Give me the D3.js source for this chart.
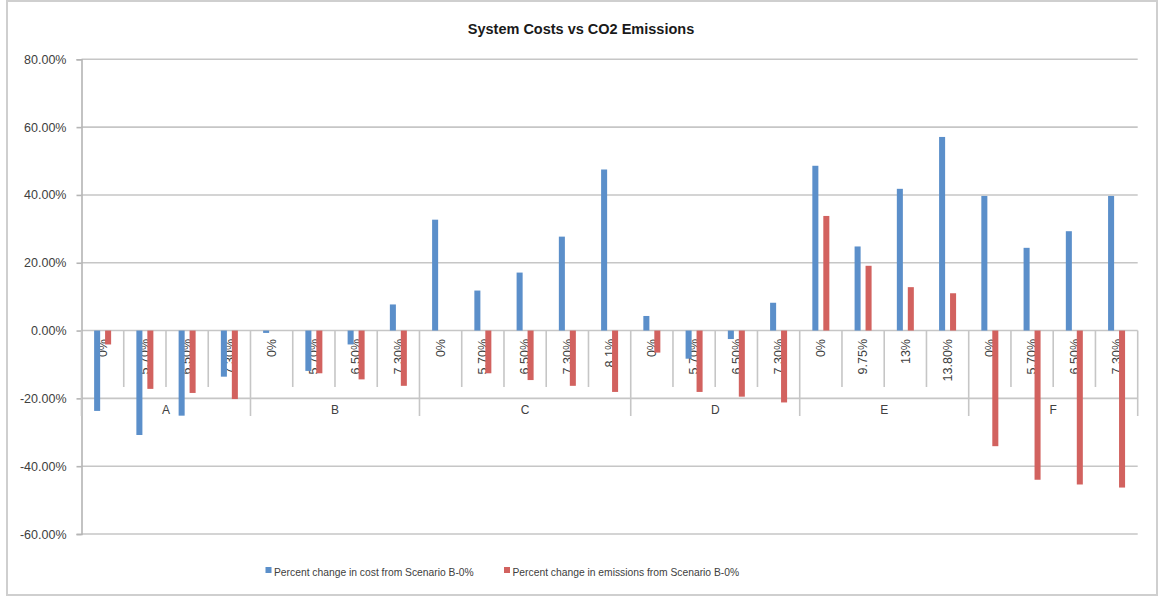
<!DOCTYPE html>
<html>
<head>
<meta charset="utf-8">
<script src="https://cdn.jsdelivr.net/npm/d3@7"></script>
<style>
  html, body { margin: 0; padding: 0; background: #fff; }
  svg { display: block; }
  text { font-family: "Liberation Sans", Arial, sans-serif; fill: #404040; }
</style>
</head>
<body>
<svg id="chart" width="1159" height="596"></svg>
<script>
// Scenario groups and the rate within each group (multi-level category axis)
const groupNames = ["A", "B", "C", "D", "E", "F"];
const categoryGroup = ["A","A","A","A","B","B","B","B","C","C","C","C","C","D","D","D","D","E","E","E","E","F","F","F","F"];
const categoryRate  = ["0%","5.70%","6.50%","7.30%","0%","5.70%","6.50%","7.30%","0%","5.70%","6.50%","7.30%","8.1%","0%","5.70%","6.50%","7.30%","0%","9.75%","13%","13.80%","0%","5.70%","6.50%","7.30%"];

// Percent change from Scenario B-0%
const costChange      = [-23.7, -30.8, -25.1, -13.6, -0.7, -11.9, -4.1, 7.7, 32.7, 11.8, 17.1, 27.7, 47.5, 4.3, -8.3, -2.5, 8.2, 48.6, 24.8, 41.8, 57.1, 39.7, 24.4, 29.3, 39.7];
const emissionsChange = [-4.1, -17.2, -18.4, -20.2, 0, -12.6, -14.4, -16.3, 0, -12.6, -14.6, -16.3, -18.1, -6.5, -18.1, -19.5, -21.2, 33.8, 19.1, 12.8, 11.0, -34.1, -44.0, -45.4, -46.3];

const yTicks = [-60, -40, -20, 0, 20, 40, 60, 80];
const seriesNames = ["Percent change in cost from Scenario B-0%", "Percent change in emissions from Scenario B-0%"];
const seriesColors = ["#5b8fca", "#d2625f"];

const svg = d3.select("#chart");
const plot = { left: 81.5, right: 1137.7, top: 59.3, bottom: 534 };

// outer frame
svg.append("rect")
  .attr("x", 7).attr("y", 1).attr("width", 1150).attr("height", 594)
  .attr("fill", "#fff").attr("stroke", "#cfcfcf").attr("stroke-width", 2);

// title
svg.append("text")
  .attr("x", 581).attr("y", 34)
  .attr("text-anchor", "middle")
  .style("font-weight", "bold").style("font-size", "14.5px").style("fill", "#1a1a1a")
  .text("System Costs vs CO2 Emissions");

const idx = d3.range(categoryRate.length);
const x = d3.scaleBand().domain(idx).range([plot.left, plot.right]).padding(0);
const bw = x.bandwidth();
const x1 = d3.scaleBand().domain([0, 1]).range([bw / 2 - 8.5, bw / 2 + 8.5]).paddingInner(0.45);
const y = d3.scaleLinear().domain([-60, 80]).range([plot.bottom, plot.top]);

// horizontal gridlines (including the zero line)
svg.append("g").selectAll("line").data(yTicks).join("line")
  .attr("x1", plot.left).attr("x2", plot.right)
  .attr("y1", d => y(d)).attr("y2", d => y(d))
  .attr("stroke", "#c6c6c6").attr("stroke-width", 1.6);

// value axis, plain hyphen for negatives
const yAxis = d3.axisLeft(y).tickValues(yTicks).tickSize(5).tickPadding(10)
  .tickFormat(d => d.toFixed(2) + "%");
const gy = svg.append("g").attr("transform", `translate(${plot.left},0)`).call(yAxis);
gy.select(".domain").attr("stroke", "#b5b5b5").attr("stroke-width", 1.6);
gy.selectAll(".tick line").attr("stroke", "#b5b5b5").attr("stroke-width", 1.6);
gy.selectAll(".tick text").style("font-size", "12.5px").style("fill", "#404040")
  .attr("font-family", null);

// category axis: tick marks between categories, longer dividers between groups
const y0 = y(0);
const boundaries = d3.range(categoryRate.length + 1);
const groupStart = new Set([0, categoryRate.length]);
categoryGroup.forEach((g, i) => { if (i > 0 && categoryGroup[i - 1] !== g) groupStart.add(i); });
const bx = i => plot.left + i * bw;
svg.append("g").selectAll("line").data(boundaries).join("line")
  .attr("x1", bx).attr("x2", bx)
  .attr("y1", y0).attr("y2", i => groupStart.has(i) ? 416 : 387)
  .attr("stroke", "#c6c6c6").attr("stroke-width", 1.6);

// rate labels, rotated
svg.append("g").selectAll("text").data(idx).join("text")
  .attr("transform", i => `translate(${x(i) + bw / 2},339) rotate(-90)`)
  .attr("text-anchor", "end").attr("dy", "0.35em")
  .style("font-size", "12.5px")
  .text(i => categoryRate[i]);

// group labels
const groupExtent = groupNames.map(g => {
  const members = idx.filter(i => categoryGroup[i] === g);
  return { name: g, cx: (x(members[0]) + x(members[members.length - 1]) + bw) / 2 };
});
svg.append("g").selectAll("text").data(groupExtent).join("text")
  .attr("x", d => d.cx).attr("y", 413.5)
  .attr("text-anchor", "middle").style("font-size", "12px")
  .text(d => d.name);

// bars
const series = [costChange, emissionsChange];
series.forEach((vals, s) => {
  svg.append("g").selectAll("rect").data(idx).join("rect")
    .attr("x", i => x(i) + x1(s))
    .attr("width", x1.bandwidth())
    .attr("y", i => y(Math.max(0, vals[i])))
    .attr("height", i => Math.abs(y(vals[i]) - y(0)))
    .attr("fill", seriesColors[s]);
});

// legend
const legendX = [265.5, 504];
seriesNames.forEach((name, s) => {
  const g = svg.append("g").attr("transform", `translate(${legendX[s]},567)`);
  g.append("rect").attr("width", 6).attr("height", 6).attr("fill", seriesColors[s]);
  g.append("text").attr("x", 8.5).attr("y", 8.5).style("font-size", "10.3px").text(name);
});
</script>
</body>
</html>
